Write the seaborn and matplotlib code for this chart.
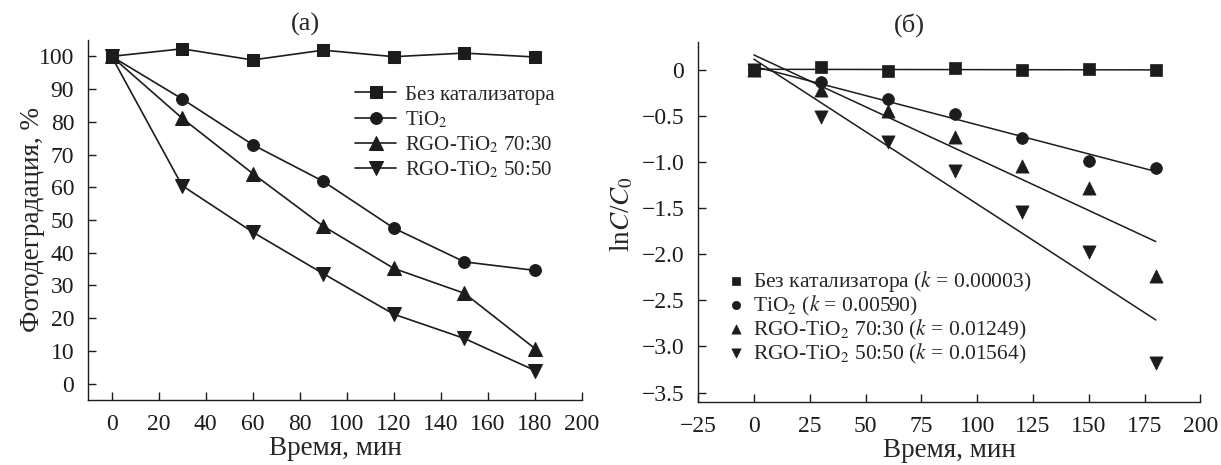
import numpy as np
import pandas as pd
import matplotlib
matplotlib.use("Agg")
import matplotlib.pyplot as plt
import seaborn as sns

# data
time_min = [0, 30, 60, 90, 120, 150, 180]
series_names = ["Без катализатора", "TiO$_2$", "RGO-TiO$_2$ 70:30", "RGO-TiO$_2$ 50:50"]
k_values = ["0.00003", "0.00590", "0.01249", "0.01564"]
markers = ["s", "o", "^", "v"]

# (а) photodegradation, %
deg_none = [100, 102.3, 98.9, 101.9, 99.9, 101.0, 99.8]
deg_tio2 = [100, 87.0, 73.0, 61.8, 47.5, 37.2, 34.6]
deg_7030 = [100, 81.1, 64.2, 48.1, 35.2, 27.6, 10.7]
deg_5050 = [100, 60.5, 46.3, 33.6, 21.2, 13.8, 4.0]

# (б) lnC/C0
ln_none = [0, 0.03, -0.01, 0.02, 0.0, 0.01, 0.0]
ln_tio2 = [0, -0.13, -0.31, -0.47, -0.74, -0.99, -1.06]
ln_7030 = [0, -0.21, -0.44, -0.72, -1.04, -1.28, -2.24]
ln_5050 = [0, -0.51, -0.78, -1.09, -1.54, -1.97, -3.18]

a_xticks = list(range(0, 201, 20))
a_yticks = list(range(0, 101, 10))
b_xticks = list(range(-25, 201, 25))
b_yticks = [0, -0.5, -1.0, -1.5, -2.0, -2.5, -3.0, -3.5]
b_yticklabels = ["0", "−0.5", "−1.0", "−1.5", "−2.0", "−2.5", "−3.0", "−3.5"]

deg_all = [deg_none, deg_tio2, deg_7030, deg_5050]
ln_all = [ln_none, ln_tio2, ln_7030, ln_5050]

sns.set_style("ticks")
plt.rcParams["font.family"] = ["Liberation Serif", "DejaVu Serif"]
plt.rcParams["mathtext.fontset"] = "stix"
plt.rcParams["axes.linewidth"] = 1.0

ink = "#1c1c1c"
fig = plt.figure(figsize=(12.21, 4.65), dpi=100)
ax1 = fig.add_axes([0.0721, 0.1398, 0.4046, 0.7742])
ax2 = fig.add_axes([0.5717, 0.1361, 0.4115, 0.7742])

# panel (а)
for name, vals, m in zip(series_names, deg_all, markers):
    df = pd.DataFrame({"t": time_min, "v": vals})
    ms = 9.5 if m in ("^", "v") else 8.5
    sns.lineplot(data=df, x="t", y="v", marker=m, markersize=ms, color=ink,
                 markeredgecolor=ink, lw=1.2, label=name, ax=ax1)

ax1.set_xlim(-10, 200)
ax1.set_ylim(-5, 105)
ax1.set_xticks(a_xticks)
ax1.set_yticks(a_yticks)
ax1.set_xlabel("Время, мин", fontsize=19.5)
ax1.set_ylabel("Фотодеградация, %", fontsize=19.5)
ax1.xaxis.set_label_coords(0.5, -0.1)
ax1.yaxis.set_label_coords(-0.087, 0.5)
ax1.legend(loc="upper left", bbox_to_anchor=(0.54, 0.875), frameon=False,
           fontsize=15, handlelength=2.0, handletextpad=0.4, labelspacing=0.22,
           borderpad=0, borderaxespad=0)
ax1.text(0.44, 1.042, "(а)", transform=ax1.transAxes, ha="center", va="center", fontsize=19)

# panel (б)
for name, k, vals, m in zip(series_names, k_values, ln_all, markers):
    sns.regplot(x=np.array(time_min), y=np.array(vals), scatter=False, ci=None,
                truncate=True, color=ink, line_kws={"lw": 1.1}, ax=ax2)
    sns.scatterplot(x=time_min, y=vals, marker=m, s=90 if m in ("^", "v") else 72,
                    color=ink, edgecolor=ink, linewidth=0.5, zorder=3,
                    label=f"{name} ($k$ = {k})", ax=ax2)

ax2.set_xlim(-25, 200)
ax2.set_ylim(-3.6, 0.31)
ax2.set_xticks(b_xticks)
ax2.set_yticks(b_yticks)
ax2.set_yticklabels(b_yticklabels)
ax2.set_xlabel("Время, мин", fontsize=19.5)
ax2.set_ylabel("ln$C$/$C_0$", fontsize=19.5)
ax2.xaxis.set_label_coords(0.5, -0.1)
ax2.yaxis.set_label_coords(-0.125, 0.52)
ax2.legend(loc="upper left", bbox_to_anchor=(0.058, 0.37), frameon=False,
           fontsize=15.5, handlelength=0.8, handletextpad=0.4, labelspacing=0.0,
           borderpad=0, borderaxespad=0, markerscale=0.7)
ax2.text(0.42, 1.046, "(б)", transform=ax2.transAxes, ha="center", va="center", fontsize=19)

for ax in (ax1, ax2):
    sns.despine(ax=ax)
    ax.tick_params(direction="in", length=6, width=1.0, labelsize=17, pad=10, colors=ink)
    for sp in ax.spines.values():
        sp.set_color(ink)

fig.savefig("out.png", dpi=100)
